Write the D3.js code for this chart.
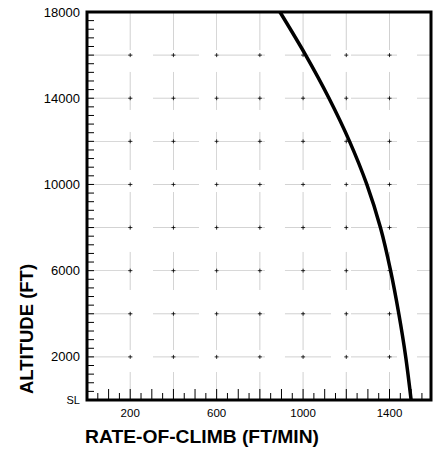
<!DOCTYPE html>
<html>
<head>
<meta charset="utf-8">
<script src="https://cdn.jsdelivr.net/npm/d3@7"></script>
<style>
  body { margin: 0; background: #fff; }
  text { font-family: "Liberation Sans", Arial, sans-serif; fill: #000; }
</style>
</head>
<body>
<script>
"use strict"

// climb curve
const altitude    = [0, 2000, 4000, 6000, 8000, 10000, 12000, 14000, 16000, 18000]
const rateOfClimb = [1500, 1475, 1443, 1405, 1358, 1295, 1215, 1120, 1012, 893]

// axis labels
const altTicks  = [0, 2000, 6000, 10000, 14000, 18000]
const rateTicks = [200, 600, 1000, 1400]

// grid
const gridRates = [200, 400, 600, 800, 1000, 1200, 1400]
const gridAlts  = [2000, 4000, 6000, 8000, 10000, 12000, 14000, 16000]

const area   = [442, 449]
const margin = { top : 12, right : 11, bottom : 49, left : 87 }
const width  = area[0] - margin.left - margin.right
const height = area[1] - margin.top - margin.bottom

const x = d3.scaleLinear().domain([0, 1592]).range([0, width])
const y = d3.scaleLinear().domain([0, 18000]).range([height, 0])

const translate = (x, y) => `translate(${x} ${y})`

const svg = d3.select("body").append("svg")
  .attr("width", area[0])
  .attr("height", area[1])

const g = svg.append("g").attr("transform", translate(margin.left, margin.top))

// faint, broken grid
g.selectAll(".vgrid").data(gridRates).enter().append("line")
  .attr("x1", d => x(d)).attr("x2", d => x(d))
  .attr("y1", 0).attr("y2", height)
  .attr("stroke", "#666").attr("stroke-width", 0.6).attr("opacity", 0.5)
  .attr("stroke-dasharray", "38,22")

g.selectAll(".hgrid").data(gridAlts).enter().append("line")
  .attr("x1", 0).attr("x2", width)
  .attr("y1", d => y(d)).attr("y2", d => y(d))
  .attr("stroke", "#666").attr("stroke-width", 0.6).attr("opacity", 0.5)
  .attr("stroke-dasharray", "46,20")

// little crosses at the grid points
const cross = gridRates.flatMap(r => gridAlts.map(a => [r, a]))
g.selectAll(".cross").data(cross).enter().append("path")
  .attr("d", ([r, a]) => `M${x(r) - 2},${y(a)}H${x(r) + 2}M${x(r)},${y(a) - 2}V${y(a) + 2}`)
  .attr("stroke", "#000").attr("stroke-width", 0.8)

// minor ticks on the altitude axis (every 400 ft)
g.selectAll(".ytick").data(d3.range(400, 18000, 400)).enter().append("line")
  .attr("x1", 0).attr("x2", 7)
  .attr("y1", d => y(d)).attr("y2", d => y(d))
  .attr("stroke", "#000").attr("stroke-width", 1)

// minor ticks on the rate axis (every 50 ft/min)
g.selectAll(".xtick").data(d3.range(50, 1600, 50)).enter().append("line")
  .attr("x1", d => x(d)).attr("x2", d => x(d))
  .attr("y1", height).attr("y2", d => height - (d % 100 === 0 ? 11 : 7))
  .attr("stroke", "#000").attr("stroke-width", 1)

// frame
g.append("rect")
  .attr("width", width).attr("height", height)
  .attr("fill", "none").attr("stroke", "#000").attr("stroke-width", 3)

// curve
g.append("path")
  .datum(altitude.map((a, i) => [rateOfClimb[i], a]))
  .attr("d", d3.line().x(d => x(d[0])).y(d => y(d[1])).curve(d3.curveCatmullRom))
  .attr("fill", "none").attr("stroke", "#000").attr("stroke-width", 3.5)

// tick labels
g.selectAll(".ylab").data(altTicks).enter().append("text")
  .attr("x", -7).attr("y", d => y(d))
  .attr("dy", "0.35em").attr("text-anchor", "end")
  .attr("font-size", d => d === 0 ? 11 : 13)
  .text(d => d === 0 ? "SL" : d)

g.selectAll(".xlab").data(rateTicks).enter().append("text")
  .attr("x", d => x(d)).attr("y", height + 17)
  .attr("text-anchor", "middle").attr("font-size", 11.5)
  .text(d => d)

// axis titles
svg.append("text")
  .attr("x", 85).attr("y", 443)
  .attr("font-size", 19).attr("font-weight", "bold")
  .attr("textLength", 234).attr("lengthAdjust", "spacingAndGlyphs")
  .text("RATE-OF-CLIMB (FT/MIN)")

svg.append("text")
  .attr("transform", translate(33, 329) + " rotate(-90)")
  .attr("text-anchor", "middle")
  .attr("font-size", 18.5).attr("font-weight", "bold")
  .text("ALTITUDE (FT)")
</script>
</body>
</html>
